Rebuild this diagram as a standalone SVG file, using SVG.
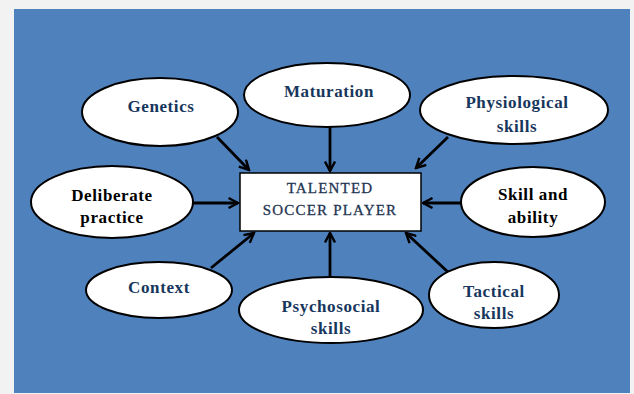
<svg xmlns="http://www.w3.org/2000/svg" width="634" height="394" viewBox="0 0 634 394">
<defs>
<style>
.n ellipse{fill:#fff;stroke:#000;stroke-width:2}
.t{font-family:"Liberation Serif","Times New Roman",serif;font-weight:bold;font-size:17px;text-anchor:middle;fill:#17365d;letter-spacing:0.6px}
.k{fill:#000}
.c line{stroke:#000;stroke-width:2.8;marker-end:url(#ah)}
.box{fill:#fff;stroke:#000;stroke-width:1.5}
.bt{font-family:"Liberation Serif","Times New Roman",serif;font-size:15px;text-anchor:middle;fill:#1f3552;letter-spacing:1.2px;stroke:#1f3552;stroke-width:0.3}
</style>
<marker id="ah" viewBox="0 0 12 12" refX="10.5" refY="6" markerWidth="12" markerHeight="12" markerUnits="userSpaceOnUse" orient="auto">
<path d="M1,1 L10.5,6 L1,11" fill="none" stroke="#000" stroke-width="2.4"/>
</marker>
</defs>
<rect x="0" y="0" width="634" height="394" fill="#f2f2f2"/>
<rect x="14" y="9" width="616" height="384" fill="#4f81bd"/>
<g class="c">
<line x1="217" y1="137" x2="249" y2="170"/>
<line x1="330" y1="127" x2="330" y2="171"/>
<line x1="448" y1="137" x2="416" y2="168"/>
<line x1="462" y1="203" x2="423" y2="203"/>
<line x1="193" y1="203" x2="238" y2="203"/>
<line x1="211" y1="268" x2="254" y2="233"/>
<line x1="330" y1="277" x2="330" y2="233"/>
<line x1="449" y1="273" x2="406" y2="233"/>
</g>
<g id="center">
<rect class="box" x="240" y="173" width="181" height="58"/>
<text class="bt" x="330" y="193">TALENTED</text>
<text class="bt" x="330" y="215">SOCCER PLAYER</text>
</g>
<g id="genetics" class="n">
<ellipse cx="160" cy="112" rx="78" ry="34"/>
<text class="t" x="161" y="112">Genetics</text>
</g>
<g id="maturation" class="n">
<ellipse cx="327" cy="95" rx="83" ry="32"/>
<text class="t" x="329" y="97">Maturation</text>
</g>
<g id="physiological" class="n">
<ellipse cx="514" cy="110" rx="94" ry="34"/>
<text class="t" x="517" y="108">Physiological</text>
<text class="t" x="517" y="132">skills</text>
</g>
<g id="skill" class="n">
<ellipse cx="533" cy="202" rx="72" ry="35"/>
<text class="t k" x="533" y="200">Skill and</text>
<text class="t k" x="533" y="223">ability</text>
</g>
<g id="deliberate" class="n">
<ellipse cx="112" cy="202" rx="81" ry="36"/>
<text class="t k" x="112" y="201">Deliberate</text>
<text class="t k" x="112" y="223">practice</text>
</g>
<g id="context" class="n">
<ellipse cx="159" cy="290" rx="73" ry="28"/>
<text class="t" x="159" y="293">Context</text>
</g>
<g id="psychosocial" class="n">
<ellipse cx="331" cy="310" rx="92" ry="33"/>
<text class="t" x="331" y="312">Psychosocial</text>
<text class="t" x="331" y="334">skills</text>
</g>
<g id="tactical" class="n">
<ellipse cx="494" cy="295" rx="65" ry="33"/>
<text class="t" x="494" y="297">Tactical</text>
<text class="t" x="494" y="319">skills</text>
</g>
</svg>
